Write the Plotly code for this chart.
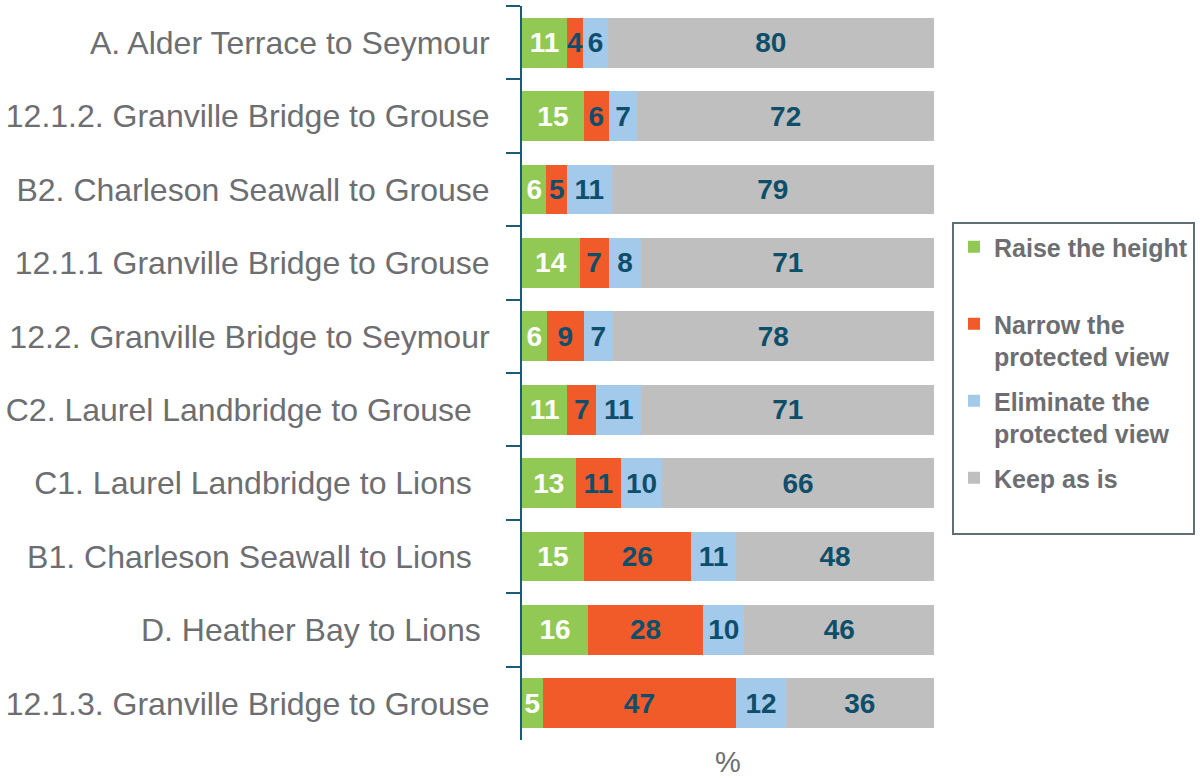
import plotly.graph_objects as go

routes = [
    "A. Alder Terrace to Seymour",
    "12.1.2. Granville Bridge to Grouse",
    "B2. Charleson Seawall to Grouse",
    "12.1.1 Granville Bridge to Grouse",
    "12.2. Granville Bridge to Seymour",
    "C2. Laurel Landbridge to Grouse\u00a0\u00a0",
    "C1. Laurel Landbridge to Lions\u00a0\u00a0",
    "B1. Charleson Seawall to Lions\u00a0\u00a0",
    "D. Heather Bay to Lions\u00a0",
    "12.1.3. Granville Bridge to Grouse",
]

raise_height = [11, 15, 6, 14, 6, 11, 13, 15, 16, 5]
narrow_view = [4, 6, 5, 7, 9, 7, 11, 26, 28, 47]
eliminate_view = [6, 7, 11, 8, 7, 11, 10, 11, 10, 12]
keep_as_is = [80, 72, 79, 71, 78, 71, 66, 48, 46, 36]

series = [
    ("Raise the height<br> ", raise_height, "#92c955", "white"),
    ("Narrow the<br>protected view", narrow_view, "#f15a29", "#0d4f6b"),
    ("Eliminate the<br>protected view", eliminate_view, "#a3c9eb", "#0d4f6b"),
    ("Keep as is<br> ", keep_as_is, "#bfbfbf", "#0d4f6b"),
]

fig = go.Figure()
for i, (name, values, color, text_color) in enumerate(series):
    fig.add_trace(
        go.Bar(
            name=name,
            y=routes,
            x=values,
            orientation="h",
            marker=dict(color=color, line=dict(width=0)),
            text=values,
            textposition="inside",
            insidetextanchor="middle",
            textangle=0,
            textfont=dict(family="Liberation Sans", size=28, color=text_color, weight="bold"),
            legendgroup=f"g{i}",
            hoverinfo="skip",
        )
    )

fig.update_layout(
    width=1200,
    height=778,
    barmode="stack",
    barnorm="percent",  # rows are shown as 100% stacked
    bargap=0.32,
    plot_bgcolor="white",
    paper_bgcolor="white",
    margin=dict(l=519, r=266, t=6, b=35),
    font=dict(family="Liberation Sans", color="#6d6e71"),
    uniformtext=dict(minsize=28, mode="show"),
    showlegend=True,
    legend=dict(
        xref="container",
        yref="container",
        x=952 / 1200,
        y=1 - 222 / 778,
        xanchor="left",
        yanchor="top",
        valign="top",
        bordercolor="#5f6e75",
        borderwidth=2,
        bgcolor="white",
        tracegroupgap=9,
        font=dict(family="Liberation Sans", size=25, color="#6d6e71", weight="bold"),
    ),
    xaxis=dict(
        range=[0, 100],
        showgrid=False,
        zeroline=False,
        showline=False,
        showticklabels=False,
        ticks="",
        title=dict(text="%", font=dict(size=29, color="#6d6e71"), standoff=12),
    ),
    yaxis=dict(
        autorange="reversed",
        showgrid=False,
        showline=True,
        linecolor="#1a5b75",
        linewidth=2,
        ticks="outside",
        tickson="boundaries",
        ticklen=14,
        tickwidth=2,
        tickcolor="#1a5b75",
        ticklabelstandoff=24,
        tickfont=dict(family="Liberation Sans", size=32, color="#6d6e71"),
    ),
)

# drop the default page margin so the figure sits at the window's corner
fig.write_html(
    "out.html",
    config={"displayModeBar": False},
    post_script="document.body.style.margin='0';",
)
